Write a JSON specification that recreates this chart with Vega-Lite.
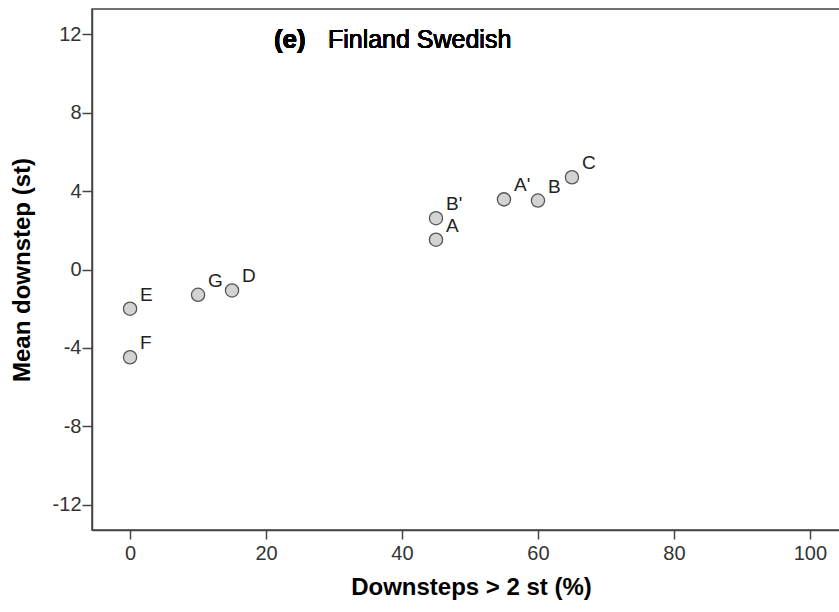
{
  "$schema": "https://vega.github.io/schema/vega-lite/v6.json",
  "width": 758,
  "height": 521,
  "autosize": {"type": "none"},
  "padding": {"left": 92, "top": 9, "right": 0, "bottom": 82},
  "background": "white",
  "config": {
    "font": "Liberation Sans",
    "view": {"stroke": "#444444", "strokeWidth": 1.5},
    "axis": {
      "grid": false,
      "domainColor": "#444444",
      "domainWidth": 1.5,
      "tickColor": "#444444",
      "tickWidth": 1.5,
      "labelFont": "Liberation Sans",
      "labelFontSize": 20,
      "labelColor": "#333333",
      "titleFont": "Liberation Sans",
      "titleFontSize": 24,
      "titleFontWeight": "bold",
      "titleColor": "#000000"
    }
  },
  "data": {
    "values": [
      {"label": "E", "pct": 0, "mean": -2.0},
      {"label": "F", "pct": 0, "mean": -4.48},
      {"label": "G", "pct": 10, "mean": -1.29},
      {"label": "D", "pct": 15, "mean": -1.07},
      {"label": "B'", "pct": 45, "mean": 2.62},
      {"label": "A", "pct": 45, "mean": 1.52},
      {"label": "A'", "pct": 55, "mean": 3.58},
      {"label": "B", "pct": 60, "mean": 3.52},
      {"label": "C", "pct": 65, "mean": 4.71}
    ]
  },
  "encoding": {
    "x": {
      "field": "pct",
      "type": "quantitative",
      "scale": {"domain": [-5.6, 105.9], "nice": false, "zero": false},
      "axis": {"values": [0, 20, 40, 60, 80, 100], "title": "Downsteps > 2 st (%)", "tickSize": 9, "labelPadding": 4, "titlePadding": 12}
    },
    "y": {
      "field": "mean",
      "type": "quantitative",
      "scale": {"domain": [-13.3, 13.3], "nice": false, "zero": false},
      "axis": {"values": [-12, -8, -4, 0, 4, 8, 12], "title": "Mean downstep (st)", "tickSize": 10, "labelPadding": 1, "titlePadding": 18, "labelExpr": "replace(datum.label, '−', '-')"}
    }
  },
  "layer": [
    {
      "mark": {"type": "point", "shape": "circle", "filled": true, "fill": "#d3d3d3", "stroke": "#555555", "strokeWidth": 1.3, "size": 175, "opacity": 1}
    },
    {
      "mark": {"type": "text", "align": "left", "baseline": "alphabetic", "dx": 10, "dy": -8, "fontSize": 19, "font": "Liberation Sans", "color": "#222222"},
      "encoding": {"text": {"field": "label"}}
    },
    {
      "mark": {"type": "text", "align": "center", "baseline": "middle", "fontSize": 26, "fontWeight": "bold", "font": "Liberation Sans", "color": "#000000"},
      "encoding": {"x": {"datum": 23.5}, "y": {"datum": 11.7}, "text": {"value": "(e)"}}
    },
    {
      "mark": {"type": "text", "align": "left", "baseline": "middle", "fontSize": 25, "font": "Liberation Sans", "color": "#000000"},
      "encoding": {"x": {"datum": 29.1}, "y": {"datum": 11.7}, "text": {"value": "Finland Swedish"}}
    }
  ]
}
